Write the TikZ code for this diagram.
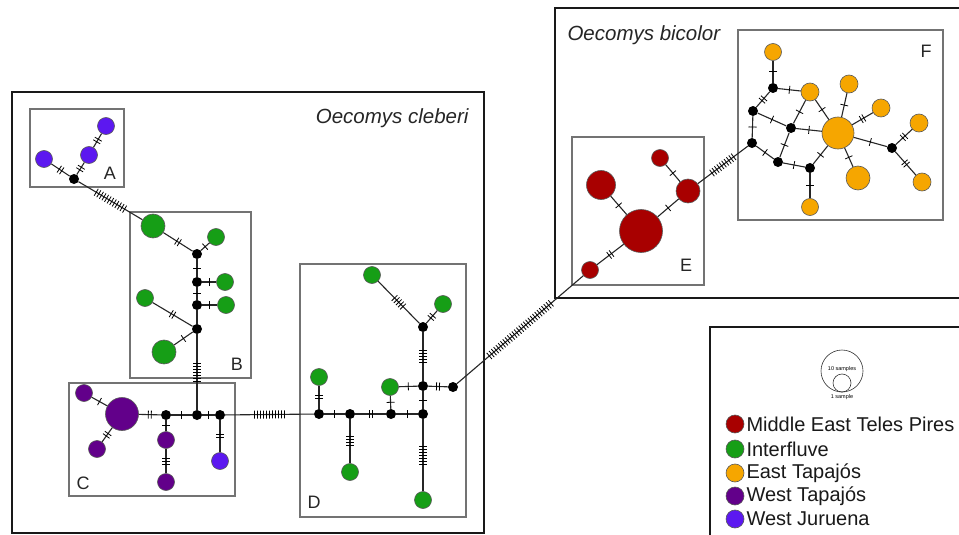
\documentclass[tikz,border=0pt]{standalone}
\usepackage{fontspec}
\setmainfont{Liberation Sans}
\usetikzlibrary{decorations.markings}

\definecolor{mtp}{RGB}{168,0,0}
\definecolor{itf}{RGB}{22,158,22}
\definecolor{etp}{RGB}{246,166,0}
\definecolor{wtp}{RGB}{98,0,138}
\definecolor{wju}{RGB}{92,24,240}

\tikzset{
  hap/.style={circle,draw=black!65,line width=0.6pt,inner sep=0pt,minimum size=#1},
  med/.style={circle,fill=black,inner sep=0pt,minimum size=10pt},
  lnk/.style={line width=1.1pt,black!85},
  mut/.style={lnk,postaction={decorate,decoration={markings,mark=at position 0.5 with {
    \foreach \k in {1,...,#1}{\draw[line width=0.8pt,black] ({(\k-(#1+1)/2)*3pt},-4pt) -- ({(\k-(#1+1)/2)*3pt},4pt);}}}}},
  grp/.style={draw=black!55,line width=2.5pt},
  spp/.style={draw=black!90,line width=2pt},
  lbl/.style={font=\fontsize{18}{18}\selectfont,text=black!85},
  key/.style={font=\fontsize{20}{20}\selectfont,anchor=west,inner sep=2pt,text=black!90},
}

\begin{document}
\begin{tikzpicture}[x=1pt,y=-1pt]
\useasboundingbox (0,0) rectangle (959,535);
\fill[white] (0,0) rectangle (959,535);

%框
\draw[spp] (12,92) rectangle (484,533);
\draw[spp] (555,8) rectangle (975,298);
\draw[spp] (710,327) rectangle (975,545);
\draw[grp] (30,109) rectangle (124,187);
\draw[grp] (130,212) rectangle (251,378);
\draw[grp] (69,383) rectangle (235,496);
\draw[grp] (300,264) rectangle (466,517);
\draw[grp] (572,137) rectangle (704,285);
\draw[grp] (738,30) rectangle (943,220);

\node[font=\fontsize{20.5}{20}\selectfont\itshape,anchor=east,text=black!85] (clb) at (472,118) {Oecomys cleberi};
\node[font=\fontsize{20.5}{20}\selectfont\itshape,anchor=west,text=black!85] (bic) at (564,35) {Oecomys bicolor};
\node[lbl] (la) at (110,173) {A};
\node[lbl] (lb) at (237,364) {B};
\node[lbl] (lc) at (83,483) {C};
\node[lbl] (ld) at (314,502) {D};
\node[lbl] (le) at (686,265) {E};
\node[lbl] (lf) at (926,51) {F};

%A
\node[hap=17pt,fill=wju] (A1) at (44,159) {};
\node[hap=17pt,fill=wju] (A2) at (89,155) {};
\node[hap=17pt,fill=wju] (A3) at (106,126) {};
\node[med] (Am) at (74,179) {};

%B
\node[hap=24pt,fill=itf] (B1) at (153,226) {};
\node[med] (Bm1) at (197,254) {};
\node[hap=17pt,fill=itf] (B2) at (216,237) {};
\node[med] (Bm2) at (197,282) {};
\node[hap=17pt,fill=itf] (B3) at (225,282) {};
\node[med] (Bm3) at (197,305) {};
\node[hap=17pt,fill=itf] (B4) at (226,305) {};
\node[hap=17pt,fill=itf] (B5) at (145,298) {};
\node[med] (Bm4) at (197,329) {};
\node[hap=24pt,fill=itf] (B6) at (164,352) {};

%C
\node[hap=33pt,fill=wtp] (C1) at (122,414) {};
\node[hap=17pt,fill=wtp] (C2) at (84,393) {};
\node[hap=17pt,fill=wtp] (C3) at (97,449) {};
\node[med] (Cm1) at (166,415) {};
\node[hap=17pt,fill=wtp] (C4) at (166,440) {};
\node[hap=17pt,fill=wtp] (C5) at (166,482) {};
\node[med] (Cm2) at (197,415) {};
\node[med] (Cm3) at (220,415) {};
\node[hap=17pt,fill=wju] (C6) at (220,461) {};

%D
\node[med] (Dm1) at (319,414) {};
\node[hap=17pt,fill=itf] (D1) at (319,377) {};
\node[med] (Dm2) at (350,414) {};
\node[hap=17pt,fill=itf] (D2) at (350,472) {};
\node[med] (Dm3) at (391,414) {};
\node[hap=17pt,fill=itf] (D3) at (390,387) {};
\node[med] (Dm4) at (423,414) {};
\node[med] (Dm5) at (423,386) {};
\node[med] (Dm6) at (453,387) {};
\node[med] (Dm7) at (423,327) {};
\node[hap=17pt,fill=itf] (D4) at (372,275) {};
\node[hap=17pt,fill=itf] (D5) at (443,304) {};
\node[hap=17pt,fill=itf] (D6) at (423,500) {};

%E
\node[hap=43pt,fill=mtp] (E1) at (641,231) {};
\node[hap=29pt,fill=mtp] (E2) at (601,185) {};
\node[hap=17pt,fill=mtp] (E3) at (660,158) {};
\node[hap=24pt,fill=mtp] (E4) at (688,191) {};
\node[hap=17pt,fill=mtp] (E5) at (590,270) {};

%F
\node[med] (Fm1) at (752,143) {};
\node[med] (Fm2) at (753,111) {};
\node[med] (Fm3) at (773,88) {};
\node[hap=17pt,fill=etp] (F1) at (773,52) {};
\node[hap=18pt,fill=etp] (F2) at (810,92) {};
\node[med] (Fm4) at (791,128) {};
\node[med] (Fm5) at (778,162) {};
\node[med] (Fm6) at (810,168) {};
\node[hap=17pt,fill=etp] (F3) at (810,207) {};
\node[hap=32pt,fill=etp] (F4) at (838,133) {};
\node[hap=18pt,fill=etp] (F5) at (849,84) {};
\node[hap=18pt,fill=etp] (F6) at (881,108) {};
\node[med] (Fm7) at (892,148) {};
\node[hap=18pt,fill=etp] (F7) at (919,123) {};
\node[hap=18pt,fill=etp] (F8) at (922,182) {};
\node[hap=24pt,fill=etp] (F9) at (858,178) {};

%连线
\draw[mut=2] (A1) -- (Am);
\draw[mut=2] (Am) -- (A2);
\draw[mut=2] (A2) -- (A3);
\draw[mut=12] (Am) -- (B1);
\draw[mut=2] (B1) -- (Bm1);
\draw[mut=1] (Bm1) -- (B2);
\draw[mut=1] (Bm1) -- (Bm2);
\draw[mut=1] (Bm2) -- (B3);
\draw[mut=1] (Bm2) -- (Bm3);
\draw[mut=1] (Bm3) -- (B4);
\draw[lnk] (Bm3) -- (Bm4);
\draw[mut=2] (B5) -- (Bm4);
\draw[mut=1] (Bm4) -- (B6);
\draw[mut=7] (Bm4) -- (Cm2);
\draw[mut=1] (C2) -- (C1);
\draw[mut=2] (C3) -- (C1);
\draw[mut=2] (C1) -- (Cm1);
\draw[mut=1] (Cm1) -- (Cm2);
\draw[mut=1] (Cm2) -- (Cm3);
\draw[mut=1] (Cm1) -- (C4);
\draw[mut=3] (C4) -- (C5);
\draw[mut=2] (Cm3) -- (C6);
\draw[mut=11] (Cm3) -- (Dm1);
\draw[mut=2] (Dm1) -- (D1);
\draw[mut=1] (Dm1) -- (Dm2);
\draw[mut=4] (Dm2) -- (D2);
\draw[mut=2] (Dm2) -- (Dm3);
\draw[mut=1] (Dm3) -- (D3);
\draw[mut=1] (Dm3) -- (Dm4);
\draw[mut=1] (Dm4) -- (Dm5);
\draw[mut=1] (D3) -- (Dm5);
\draw[mut=2] (Dm5) -- (Dm6);
\draw[mut=5] (Dm5) -- (Dm7);
\draw[mut=5] (Dm7) -- (D4);
\draw[mut=2] (Dm7) -- (D5);
\draw[mut=7] (Dm4) -- (D6);
\draw[mut=28] (Dm6) -- (E5);
\draw[mut=2] (E5) -- (E1);
\draw[mut=1] (E1) -- (E2);
\draw[mut=1] (E1) -- (E4);
\draw[mut=1] (E4) -- (E3);
\draw[mut=10] (E4) -- (Fm1);
\draw[mut=1] (Fm1) -- (Fm2);
\draw[mut=1] (Fm1) -- (Fm5);
\draw[mut=2] (Fm2) -- (Fm3);
\draw[mut=1] (Fm3) -- (F1);
\draw[mut=1] (Fm3) -- (F2);
\draw[mut=1] (Fm2) -- (Fm4);
\draw[mut=1] (F2) -- (Fm4);
\draw[mut=1] (F2) -- (F4);
\draw[mut=1] (Fm4) -- (F4);
\draw[mut=1] (Fm4) -- (Fm5);
\draw[mut=1] (Fm5) -- (Fm6);
\draw[mut=1] (Fm6) -- (F3);
\draw[mut=1] (Fm6) -- (F4);
\draw[mut=1] (F4) -- (F5);
\draw[mut=2] (F4) -- (F6);
\draw[mut=1] (F4) -- (F9);
\draw[mut=1] (F4) -- (Fm7);
\draw[mut=2] (Fm7) -- (F7);
\draw[mut=2] (Fm7) -- (F8);

%图例
\node[circle,draw=black!80,line width=0.6pt,inner sep=0pt,minimum size=42pt] (s10) at (842,371) {};
\node[circle,draw=black!80,line width=0.6pt,inner sep=0pt,minimum size=18pt] (s1) at (842,383) {};
\node[font=\fontsize{5.5}{5}\selectfont] (t10) at (842,369) {10 samples};
\node[font=\fontsize{5.5}{5}\selectfont] (t1) at (842,397) {1 sample};
\node[hap=18pt,fill=mtp] (k1) at (735,424) {};
\node[hap=18pt,fill=itf] (k2) at (735,449) {};
\node[hap=18pt,fill=etp] (k3) at (735,473) {};
\node[hap=18pt,fill=wtp] (k4) at (735,496) {};
\node[hap=18pt,fill=wju] (k5) at (735,519) {};
\node[key] at (k1.east) {Middle East Teles Pires};
\node[key] at (k2.east) {Interfluve};
\node[key] at (k3.east) {East Tapajós};
\node[key] at (k4.east) {West Tapajós};
\node[key] at (k5.east) {West Juruena};
\end{tikzpicture}
\end{document}
